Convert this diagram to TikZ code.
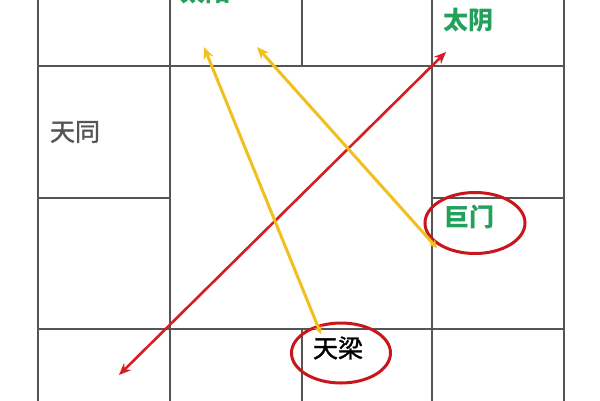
\documentclass[tikz,border=0pt]{standalone}
\usepackage{fontspec}
\newfontfamily\cjk{Noto Sans CJK SC}
\newfontfamily\cjkmed[FakeBold=1.4]{Noto Sans CJK SC}
\usetikzlibrary{arrows.meta,shapes.geometric}
\definecolor{gridgray}{HTML}{555555}
\definecolor{stargreen}{HTML}{22A05C}
\definecolor{textgray}{HTML}{555555}
\definecolor{arrowred}{HTML}{D41E24}
\definecolor{ringred}{HTML}{C8161D}
\definecolor{arrowyellow}{HTML}{F2C01E}
\tikzset{
  gridline/.style={draw=gridgray, line width=1.4pt},
  star/.style={font=\cjkmed\fontsize{25}{25}\selectfont, inner sep=0pt},
  greenstar/.style={star, text=stargreen, font=\cjk\bfseries\fontsize{25}{25}\selectfont},
  ring/.style={ellipse, draw=ringred, line width=3pt, inner sep=0pt},
  redarrow/.style={draw=arrowred, line width=2.6pt, {Stealth[length=12pt,width=10pt]}-{Stealth[length=12pt,width=10pt]}},
  yellowarrow/.style={draw=arrowyellow, line width=3pt, {Stealth[length=12pt,width=10pt]}-{Stealth[length=8pt,width=8pt]}}
}
\begin{document}
\begin{tikzpicture}[x=1pt,y=-1pt]
\useasboundingbox (0,0) rectangle (600,400);
\clip (0,0) rectangle (600,400);
\fill[white] (0,0) rectangle (600,400);
% grid
\draw[gridline] (38,-5) -- (38,405);
\draw[gridline] (170,-5) -- (170,405);
\draw[gridline] (432,-5) -- (432,405);
\draw[gridline] (564,-5) -- (564,405);
\draw[gridline] (302,-5) -- (302,66);
\draw[gridline] (302,329) -- (302,405);
\draw[gridline] (38,66) -- (564,66);
\draw[gridline] (38,329) -- (564,329);
\draw[gridline] (38,198) -- (170,198);
\draw[gridline] (432,198) -- (564,198);
% stars
\node[greenstar] (taiyang) at (205,-8) {太阳};
\node[greenstar] (taiyin) at (468,20) {太阴};
\node[star, text=textgray] (tiantong) at (75,132) {天同};
\node[greenstar] (jumen) at (469,217) {巨门};
\node[star, text=black] (tianliang) at (338,348) {天梁};
% rings
\node[ring, minimum width=100pt, minimum height=61pt] (ringjm) at (475,223) {};
\node[ring, minimum width=99pt, minimum height=60pt] (ringtl) at (341,353) {};
% arrow ends
\coordinate (redA) at (119,375);
\coordinate (redB) at (446,52);
\coordinate (yA) at (204,47);
\coordinate (yB) at (321,334);
\coordinate (yC) at (257,47);
\coordinate (yD) at (437,248);
% arrows
\draw[redarrow] (redA) -- (redB);
\draw[yellowarrow] (yA) -- (yB);
\draw[yellowarrow] (yC) -- (yD);
\end{tikzpicture}
\end{document}
